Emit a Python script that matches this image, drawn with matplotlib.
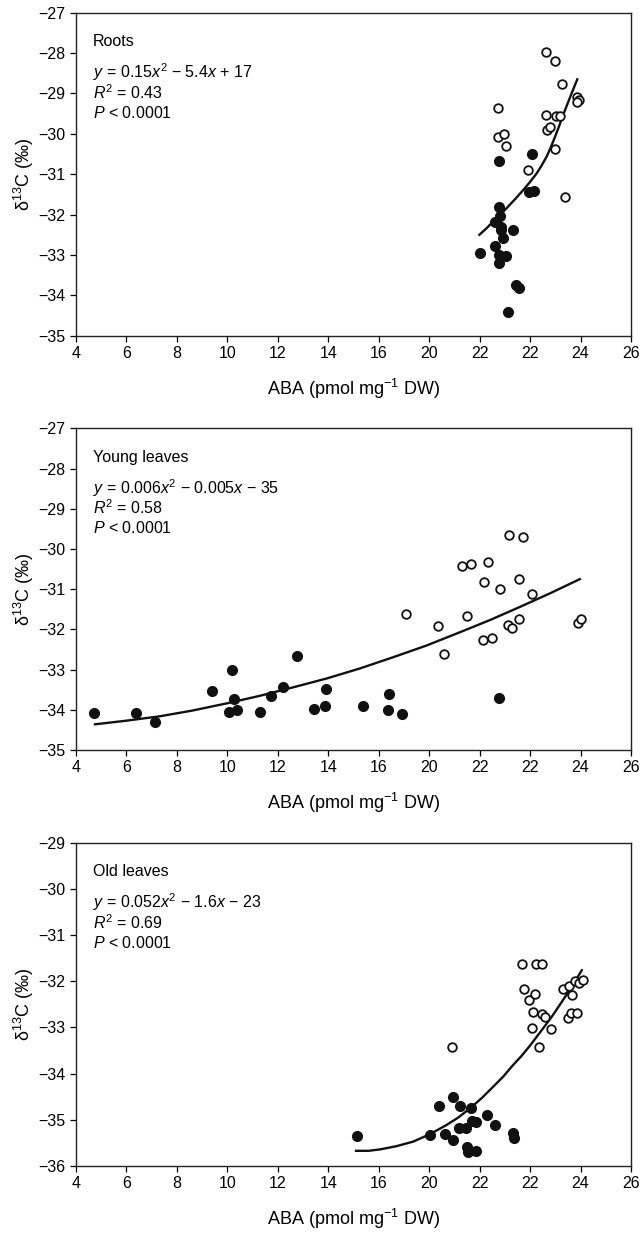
import numpy as np
import matplotlib
matplotlib.use("Agg")
import matplotlib.pyplot as plt

plt.rcParams['font.family'] = ['Liberation Sans', 'DejaVu Sans']
plt.rcParams['mathtext.fontset'] = 'custom'
plt.rcParams['mathtext.rm'] = 'Liberation Sans'
plt.rcParams['mathtext.it'] = 'Liberation Sans:italic'
plt.rcParams['font.size'] = 11.5

# x tick labels as printed on the original figure (position 18 reads "20", 20 reads "22")
x_ticks = [4, 6, 8, 10, 12, 14, 16, 18, 20, 22, 24, 26]
x_ticklabels = ['4', '6', '8', '10', '12', '14', '16', '20', '22', '22', '24', '26']

# --- Roots ---
roots_open_x = [22.65, 22.98, 23.27, 23.84, 23.92, 23.86, 20.73, 22.63, 23.02, 23.19,
                22.67, 22.78, 20.73, 20.96, 21.06, 22.98, 21.92, 23.37]
roots_open_y = [-27.98, -28.19, -28.77, -29.08, -29.16, -29.20, -29.37, -29.54, -29.56, -29.56,
                -29.91, -29.82, -30.07, -30.00, -30.30, -30.38, -30.90, -31.56]
roots_fill_x = [20.78, 22.08, 21.97, 22.15, 20.75, 20.80, 20.59, 20.84, 20.85, 21.32,
                20.93, 20.60, 20.03, 21.03, 20.75, 20.76, 21.44, 21.56, 21.11]
roots_fill_y = [-30.67, -30.50, -31.43, -31.41, -31.82, -32.04, -32.19, -32.30, -32.38, -32.38,
                -32.58, -32.78, -32.96, -33.03, -32.99, -33.21, -33.75, -33.81, -34.41]
roots_fit_x = [19.99, 20.27, 20.54, 20.84, 21.13, 21.43, 21.73, 22.00, 22.26, 22.46,
               22.66, 22.83, 22.99, 23.15, 23.31, 23.48, 23.65, 23.87]
roots_fit_y = [-32.50, -32.34, -32.17, -31.99, -31.80, -31.60, -31.39, -31.19, -30.98, -30.78,
               -30.56, -30.32, -30.07, -29.81, -29.53, -29.26, -28.99, -28.65]

# --- Young leaves ---
young_fill_x = [4.72, 6.37, 7.12, 9.41, 10.18, 10.26, 10.05, 10.37, 11.30, 11.72,
                12.21, 12.75, 13.43, 13.89, 13.87, 15.37, 16.39, 16.37, 16.91, 20.76]
young_fill_y = [-34.09, -34.09, -34.30, -33.53, -33.00, -33.72, -34.06, -34.01, -34.05, -33.66,
                -33.44, -32.66, -33.98, -33.48, -33.91, -33.90, -33.61, -34.01, -34.11, -33.70]
young_open_x = [17.09, 18.33, 18.57, 19.32, 19.66, 19.48, 20.18, 20.34, 20.15, 20.50,
                20.80, 21.15, 21.72, 21.56, 22.08, 21.11, 21.28, 21.56, 23.89, 24.00]
young_open_y = [-31.62, -31.91, -32.62, -30.42, -30.37, -31.67, -30.81, -30.33, -32.27, -32.22,
                -31.00, -29.65, -29.71, -30.75, -31.12, -31.89, -31.96, -31.74, -31.83, -31.73]
young_fit_x = [4.75, 6.00, 7.33, 8.60, 9.97, 11.30, 12.61, 13.94, 15.26, 16.58,
               17.90, 19.22, 20.40, 21.60, 22.80, 23.97]
young_fit_y = [-34.36, -34.27, -34.16, -34.02, -33.84, -33.65, -33.44, -33.22, -32.97, -32.69,
               -32.40, -32.07, -31.77, -31.44, -31.10, -30.75]

# --- Old leaves ---
old_fill_x = [15.12, 18.05, 18.37, 18.63, 18.94, 18.96, 19.22, 19.17, 19.46, 19.64,
              19.48, 19.53, 19.69, 19.85, 19.87, 20.31, 20.59, 21.33, 21.36]
old_fill_y = [-35.36, -35.33, -34.70, -35.31, -34.51, -35.44, -34.69, -35.18, -35.18, -34.74,
              -35.58, -35.69, -35.02, -35.04, -35.67, -34.89, -35.11, -35.29, -35.40]
old_open_x = [18.89, 21.67, 22.24, 22.46, 21.76, 21.96, 22.20, 22.13, 22.46, 22.59,
              22.07, 22.34, 22.81, 23.30, 23.56, 23.67, 23.79, 23.92, 24.11, 23.51, 23.63, 23.84]
old_open_y = [-33.42, -31.63, -31.63, -31.63, -32.17, -32.41, -32.28, -32.66, -32.71, -32.77,
              -33.02, -33.42, -33.04, -32.17, -32.10, -32.30, -31.99, -32.04, -31.97, -32.80, -32.69, -32.68]
old_fit_x = [15.10, 15.60, 16.05, 16.70, 17.37, 18.03, 18.69, 19.15, 19.62, 20.08,
             20.54, 20.94, 21.33, 21.67, 22.00, 22.50, 22.88, 23.25, 23.65, 24.05]
old_fit_y = [-35.67, -35.67, -35.64, -35.57, -35.47, -35.31, -35.11, -34.95, -34.75, -34.53,
             -34.28, -34.06, -33.81, -33.61, -33.39, -33.03, -32.75, -32.45, -32.12, -31.76]

panels = [
    dict(name='Roots', eq='$y$ = 0.15$x^2$ \u2212 5.4$x$ + 17', r2='0.43',
         fx=roots_fill_x, fy=roots_fill_y, ox=roots_open_x, oy=roots_open_y,
         cx=roots_fit_x, cy=roots_fit_y, ylim=(-35, -27)),
    dict(name='Young leaves', eq='$y$ = 0.006$x^2$ \u2212 0.005$x$ \u2212 35', r2='0.58',
         fx=young_fill_x, fy=young_fill_y, ox=young_open_x, oy=young_open_y,
         cx=young_fit_x, cy=young_fit_y, ylim=(-35, -27)),
    dict(name='Old leaves', eq='$y$ = 0.052$x^2$ \u2212 1.6$x$ \u2212 23', r2='0.69',
         fx=old_fill_x, fy=old_fill_y, ox=old_open_x, oy=old_open_y,
         cx=old_fit_x, cy=old_fit_y, ylim=(-36, -29)),
]

fig = plt.figure(figsize=(6.41, 12.33), dpi=100)
boxes = [(0.1186, 0.7277, 0.8658, 0.2620),
         (0.1186, 0.3917, 0.8658, 0.2609),
         (0.1186, 0.0543, 0.8658, 0.2622)]

for p, box in zip(panels, boxes):
    ax = fig.add_axes(box)
    ax.plot(p['cx'], p['cy'], color='#111111', lw=1.7, zorder=2)
    ax.plot(p['fx'], p['fy'], 'o', ms=7, color='#111111', mec='#111111', zorder=3)
    ax.plot(p['ox'], p['oy'], 'o', ms=6.2, mfc='white', mec='#111111', mew=1.3, zorder=4)

    ax.set_xlim(4, 26)
    ax.set_ylim(*p['ylim'])
    ax.set_xticks(x_ticks)
    ax.set_xticklabels(x_ticklabels)
    ax.set_yticks(np.arange(p['ylim'][0], p['ylim'][1] + 1, 1))
    ax.tick_params(direction='out', length=4, width=0.9, pad=3.5, top=False, right=False)
    for s in ax.spines.values():
        s.set_linewidth(1.0)
        s.set_color('#222222')

    ax.set_xlabel('ABA (pmol mg$^{-1}$ DW)', fontsize=13, labelpad=11)
    ax.set_ylabel('\u03b4$^{13}$C (\u2030)', fontsize=13, labelpad=2)

    ax.text(0.03, 0.91, p['name'], transform=ax.transAxes, va='center', ha='left')
    ax.text(0.03, 0.815, p['eq'], transform=ax.transAxes, va='center', ha='left')
    ax.text(0.03, 0.752, '$R^2$ = ' + p['r2'], transform=ax.transAxes, va='center', ha='left')
    ax.text(0.03, 0.69, '$P$ < 0.0001', transform=ax.transAxes, va='center', ha='left')

fig.savefig('out.png', dpi=100)
